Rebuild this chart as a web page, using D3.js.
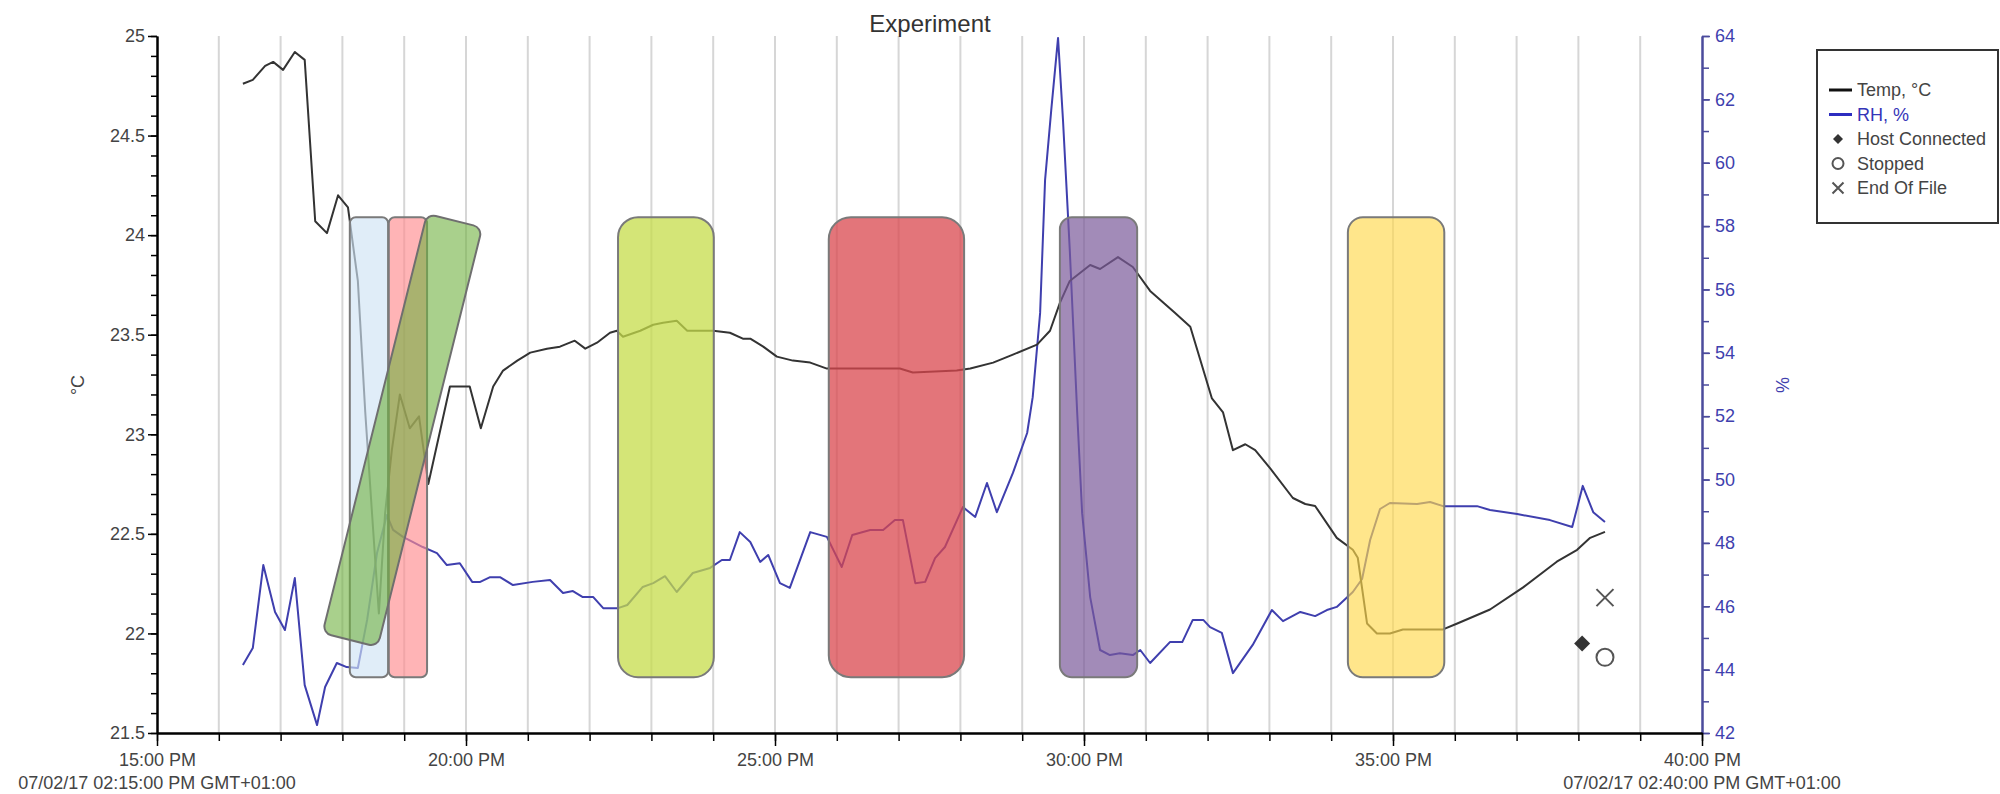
<!DOCTYPE html>
<html>
<head>
<meta charset="utf-8">
<script src="https://cdn.jsdelivr.net/npm/d3@7"></script>
<style>
  body { margin: 0; background: #fff; }
  text { font-family: "Liberation Sans", Arial, sans-serif; }
</style>
</head>
<body>
<div id="chart"></div>
<script>
// Logger Readings: [minute, value]
const tempReadings = [
  [16.39, 24.76], [16.55, 24.78], [16.75, 24.85], [16.88, 24.87], [17.04, 24.83], [17.23, 24.92], [17.39, 24.88],
  [17.56, 24.07], [17.75, 24.01], [17.93, 24.20], [18.09, 24.14], [18.25, 23.77], [18.37, 23.11], [18.48, 22.60],
  [18.59, 22.10], [18.69, 22.60], [18.80, 22.92], [18.93, 23.20], [19.09, 23.03], [19.24, 23.09], [19.39, 22.75],
  [19.74, 23.24], [20.06, 23.24], [20.24, 23.03], [20.44, 23.24], [20.60, 23.32], [20.83, 23.37], [21.04, 23.41],
  [21.31, 23.43], [21.52, 23.44], [21.76, 23.47], [21.93, 23.43], [22.12, 23.46], [22.33, 23.51], [22.44, 23.52],
  [22.54, 23.49], [22.82, 23.52], [23.03, 23.55], [23.19, 23.56], [23.41, 23.57], [23.58, 23.52], [24.00, 23.52],
  [24.27, 23.51], [24.48, 23.48], [24.60, 23.48], [24.81, 23.44], [25.03, 23.39], [25.29, 23.37], [25.57, 23.36],
  [25.84, 23.33], [27.02, 23.33], [27.23, 23.31], [27.94, 23.32], [28.16, 23.33], [28.53, 23.36], [28.85, 23.40],
  [29.24, 23.45], [29.45, 23.52], [29.61, 23.66], [29.77, 23.77], [30.10, 23.85], [30.26, 23.83], [30.55, 23.89],
  [30.79, 23.84], [31.07, 23.72], [31.47, 23.61], [31.72, 23.54], [32.07, 23.18], [32.25, 23.11], [32.41, 22.92],
  [32.61, 22.95], [32.77, 22.92], [33.01, 22.83], [33.38, 22.68], [33.58, 22.65], [33.74, 22.64], [34.09, 22.48],
  [34.35, 22.42], [34.43, 22.38], [34.58, 22.05], [34.74, 22.00], [34.95, 22.00], [35.16, 22.02], [35.81, 22.02],
  [36.04, 22.05], [36.57, 22.12], [37.10, 22.23], [37.65, 22.36], [37.98, 22.42], [38.19, 22.48], [38.43, 22.51]
];
const rhReadings = [
  [16.39, 44.15], [16.55, 44.68], [16.72, 47.30], [16.91, 45.82], [17.07, 45.25], [17.23, 46.89], [17.39, 43.51],
  [17.59, 42.25], [17.72, 43.45], [17.91, 44.21], [18.07, 44.08], [18.25, 44.05], [18.40, 45.57], [18.56, 47.68],
  [18.72, 48.88], [18.82, 48.41], [18.98, 48.19], [19.30, 47.87], [19.53, 47.68], [19.69, 47.30], [19.90, 47.36],
  [20.10, 46.77], [20.23, 46.77], [20.39, 46.92], [20.55, 46.92], [20.76, 46.67], [21.08, 46.77], [21.36, 46.83],
  [21.57, 46.42], [21.73, 46.48], [21.89, 46.29], [22.06, 46.29], [22.22, 45.94], [22.46, 45.94], [22.61, 46.04],
  [22.86, 46.61], [23.03, 46.73], [23.22, 46.95], [23.41, 46.45], [23.67, 47.05], [23.95, 47.21], [24.14, 47.46],
  [24.27, 47.46], [24.43, 48.34], [24.60, 48.03], [24.76, 47.40], [24.89, 47.62], [25.08, 46.73], [25.24, 46.58],
  [25.57, 48.34], [25.84, 48.19], [26.08, 47.24], [26.25, 48.25], [26.54, 48.41], [26.75, 48.41], [26.94, 48.72],
  [27.07, 48.72], [27.27, 46.73], [27.43, 46.77], [27.59, 47.52], [27.75, 47.87], [28.04, 49.13], [28.24, 48.82],
  [28.43, 49.89], [28.59, 48.97], [28.85, 50.21], [29.08, 51.47], [29.17, 52.60], [29.29, 55.26], [29.37, 59.45],
  [29.47, 61.66], [29.58, 63.94], [29.66, 61.35], [29.77, 57.24], [29.89, 52.10], [29.97, 48.94], [30.10, 46.29],
  [30.26, 44.62], [30.42, 44.46], [30.58, 44.52], [30.79, 44.46], [30.91, 44.62], [31.07, 44.21], [31.39, 44.87],
  [31.59, 44.87], [31.76, 45.57], [31.93, 45.57], [32.04, 45.34], [32.23, 45.16], [32.41, 43.89], [32.73, 44.78],
  [33.04, 45.88], [33.22, 45.53], [33.50, 45.82], [33.74, 45.69], [33.93, 45.88], [34.09, 45.98], [34.35, 46.45],
  [34.50, 46.86], [34.63, 48.09], [34.79, 49.07], [34.95, 49.26], [35.39, 49.23], [35.60, 49.29], [35.81, 49.16],
  [36.36, 49.16], [36.57, 49.04], [37.01, 48.91], [37.54, 48.72], [37.90, 48.50], [38.07, 49.80], [38.24, 48.97],
  [38.43, 48.66]
];

// Logger Events (Plotted On Temperature Scale)
const eventNames = ["Host Connected", "Stopped", "End Of File"];
const eventTimes = [38.06, 38.43, 38.43];
const eventTemps = [21.95, 21.88, 22.18];

// Highlight Bands (Minutes, Temperature Range)
const bandStarts = [18.12, 18.75, 22.46, 25.87, 29.61, 34.27];
const bandEnds = [18.74, 19.37, 24.01, 28.06, 30.86, 35.83];
const bandLow = 21.78, bandHigh = 24.09;
// Slanted Band: Centre Minute/Temp, Span In Minutes/Degrees
const slantCentre = [18.97, 23.02];
const slantSpan = [0.92, 2.17];

// Axis Ticks And Labels
const xMajorTicks = [15, 20, 25, 30, 35, 40];
const xTickLabels = ["15:00 PM", "20:00 PM", "25:00 PM", "30:00 PM", "35:00 PM", "40:00 PM"];
const dateLabels = ["07/02/17 02:15:00 PM GMT+01:00", "07/02/17 02:40:00 PM GMT+01:00"];
const tempMajorTicks = [21.5, 22, 22.5, 23, 23.5, 24, 24.5, 25];
const rhMajorTicks = [42, 44, 46, 48, 50, 52, 54, 56, 58, 60, 62, 64];

// Styles
const tempColor = "#333333", rhColor = "#3f3fae", rhAxisColor = "#4b4b9c";
const bandColors = ["#cfe4f5", "#ff8c8f", "#c5dc4a", "#d9474e", "#7a5a9a", "#ffd84d"];
const bandOpacity = [0.65, 0.65, 0.75, 0.75, 0.7, 0.65];
const bandRadii = [6, 6, 20, 22, 12, 15];

// Dimensions For SVG Element
let w = 2000, h = 794;
let svg = d3.select("#chart").append("svg").attr("width", w).attr("height", h);

// Scales
let x = d3.scaleLinear().domain([15, 40]).range([157, 1702]);
let yT = d3.scaleLinear().domain([21.5, 25]).range([733, 36]);
let yRH = d3.scaleLinear().domain([42, 64]).range([733, 36]);

// Vertical Gridlines Every Minute
svg.append("g").selectAll("line").data(d3.range(16, 40)).enter().append("line")
  .attr("x1", d => x(d)).attr("x2", d => x(d)).attr("y1", yT(25)).attr("y2", yT(21.5))
  .attr("stroke", "#d6d6d6").attr("stroke-width", 2);

// Title
svg.append("text").attr("x", 930).attr("y", 32).attr("text-anchor", "middle")
  .attr("font-size", 24).attr("fill", "#333").text("Experiment");

// Left Temperature Axis (Minor Then Major)
let minorT = d3.range(215, 251).map(d => d / 10);
svg.append("g").attr("transform", `translate(${x(15)},0)`)
  .call(d3.axisLeft(yT).tickValues(minorT).tickSize(6).tickSizeOuter(0).tickFormat(""));
svg.append("g").attr("transform", `translate(${x(15)},0)`)
  .call(d3.axisLeft(yT).tickValues(tempMajorTicks).tickSize(9).tickSizeOuter(0).tickPadding(3).tickFormat(d => d))
  .call(g => g.selectAll("text").attr("font-size", 18).attr("fill", "#444"));

// Right RH Axis
svg.append("g").attr("class", "rh-minor").attr("transform", `translate(${x(40)},0)`)
  .call(d3.axisRight(yRH).tickValues(d3.range(42, 65)).tickSize(7).tickSizeOuter(0).tickFormat(""));
svg.append("g").attr("class", "rh-major").attr("transform", `translate(${x(40)},0)`)
  .call(d3.axisRight(yRH).tickValues(rhMajorTicks).tickSize(8).tickSizeOuter(0).tickPadding(5).tickFormat(d => d))
  .call(g => g.selectAll("text").attr("font-size", 18).attr("fill", rhColor));
svg.selectAll(".rh-minor, .rh-major").selectAll("path, line").attr("stroke", rhAxisColor);

// Bottom Time Axis
svg.append("g").attr("transform", `translate(0,${yT(21.5)})`)
  .call(d3.axisBottom(x).tickValues(d3.range(15, 41)).tickSize(8).tickSizeOuter(0).tickFormat(""));
svg.append("g").attr("transform", `translate(0,${yT(21.5)})`)
  .call(d3.axisBottom(x).tickValues(xMajorTicks).tickSize(13).tickSizeOuter(0).tickPadding(7)
    .tickFormat((d, i) => xTickLabels[i]))
  .call(g => g.selectAll("text").attr("font-size", 18).attr("fill", "#444"));

// Thicken Axis Lines
svg.selectAll(".domain").attr("stroke-width", 2);
svg.selectAll(".tick line").attr("stroke-width", 1.5);

// Start And End Date Labels
svg.selectAll(".date-label").data(dateLabels).enter().append("text").attr("class", "date-label")
  .attr("x", (d, i) => x(i == 0 ? 15 : 40)).attr("y", 789).attr("text-anchor", "middle")
  .attr("font-size", 18).attr("fill", "#444").text(d => d);

// Axis Titles
svg.append("text").attr("transform", "translate(84,385) rotate(-90)").attr("text-anchor", "middle")
  .attr("font-size", 18).attr("fill", "#444").text("°C");
svg.append("text").attr("transform", "translate(1789,385) rotate(-90)").attr("text-anchor", "middle")
  .attr("font-size", 18).attr("fill", rhColor).text("%");

// Draw Series Lines
let tempLine = d3.line().x(d => x(d[0])).y(d => yT(d[1]));
let rhLine = d3.line().x(d => x(d[0])).y(d => yRH(d[1]));
svg.append("path").datum(rhReadings).attr("d", rhLine).attr("fill", "none")
  .attr("stroke", rhColor).attr("stroke-width", 2).attr("stroke-linejoin", "round");
svg.append("path").datum(tempReadings).attr("d", tempLine).attr("fill", "none")
  .attr("stroke", tempColor).attr("stroke-width", 2).attr("stroke-linejoin", "round");

// Highlight Bands (Drawn Over Lines)
let bands = svg.append("g");
bands.selectAll("rect").data(bandStarts.slice(0, 2)).enter().append("rect")
  .attr("x", (d, i) => x(d)).attr("y", yT(bandHigh))
  .attr("width", (d, i) => x(bandEnds[i]) - x(d)).attr("height", yT(bandLow) - yT(bandHigh))
  .attr("rx", (d, i) => bandRadii[i]).attr("fill", (d, i) => bandColors[i])
  .attr("fill-opacity", (d, i) => bandOpacity[i]).attr("stroke", "#7a7a7a").attr("stroke-width", 2);

// Slanted Green Band
let sw = x(slantCentre[0] + slantSpan[0] / 2) - x(slantCentre[0] - slantSpan[0] / 2);
let sh = yT(slantCentre[1] - slantSpan[1] / 2) - yT(slantCentre[1] + slantSpan[1] / 2);
bands.append("rect")
  .attr("transform", `translate(${x(slantCentre[0])},${yT(slantCentre[1])}) rotate(14)`)
  .attr("x", -sw / 2).attr("y", -sh / 2).attr("width", sw).attr("height", sh).attr("rx", 9)
  .attr("fill", "#70b040").attr("fill-opacity", 0.6).attr("stroke", "#6f6f6f").attr("stroke-width", 2);

bands.selectAll("rect.later").data(bandStarts.slice(2)).enter().append("rect").attr("class", "later")
  .attr("x", d => x(d)).attr("y", yT(bandHigh))
  .attr("width", (d, i) => x(bandEnds[i + 2]) - x(d)).attr("height", yT(bandLow) - yT(bandHigh))
  .attr("rx", (d, i) => bandRadii[i + 2]).attr("fill", (d, i) => bandColors[i + 2])
  .attr("fill-opacity", (d, i) => bandOpacity[i + 2]).attr("stroke", "#7a7a7a").attr("stroke-width", 2);

// Event Markers
function drawMarker(g, name, cx, cy, s) {
  if (name == "Host Connected")
    g.append("path").attr("d", `M${cx},${cy - s}L${cx + s},${cy}L${cx},${cy + s}L${cx - s},${cy}Z`).attr("fill", "#333");
  else if (name == "Stopped")
    g.append("circle").attr("cx", cx).attr("cy", cy).attr("r", s).attr("fill", "none").attr("stroke", "#555").attr("stroke-width", 2);
  else
    g.append("path").attr("d", `M${cx - s},${cy - s}L${cx + s},${cy + s}M${cx + s},${cy - s}L${cx - s},${cy + s}`)
      .attr("stroke", "#555").attr("stroke-width", 2);
}
let markers = svg.append("g");
eventNames.forEach((n, i) => drawMarker(markers, n, x(eventTimes[i]), yT(eventTemps[i]), n == "Host Connected" ? 8 : 8.5));

// Legend
let legend = svg.append("g");
legend.append("rect").attr("x", 1817).attr("y", 50).attr("width", 181).attr("height", 173)
  .attr("fill", "#fff").attr("stroke", "#333").attr("stroke-width", 2);
let legendNames = ["Temp, °C", "RH, %"].concat(eventNames);
legendNames.forEach((n, i) => {
  let ly = 90 + i * 24.5;
  if (i < 2) legend.append("line").attr("x1", 1829).attr("x2", 1852).attr("y1", ly).attr("y2", ly)
    .attr("stroke", i == 0 ? "#111" : "#2d2dc0").attr("stroke-width", 3);
  else drawMarker(legend, n, 1838, ly, i == 2 ? 5 : 5.5);
  legend.append("text").attr("x", 1857).attr("y", ly).attr("dy", "0.35em").attr("font-size", 18)
    .attr("fill", i == 1 ? "#3535b8" : "#444").text(n);
});
</script>
</body>
</html>
